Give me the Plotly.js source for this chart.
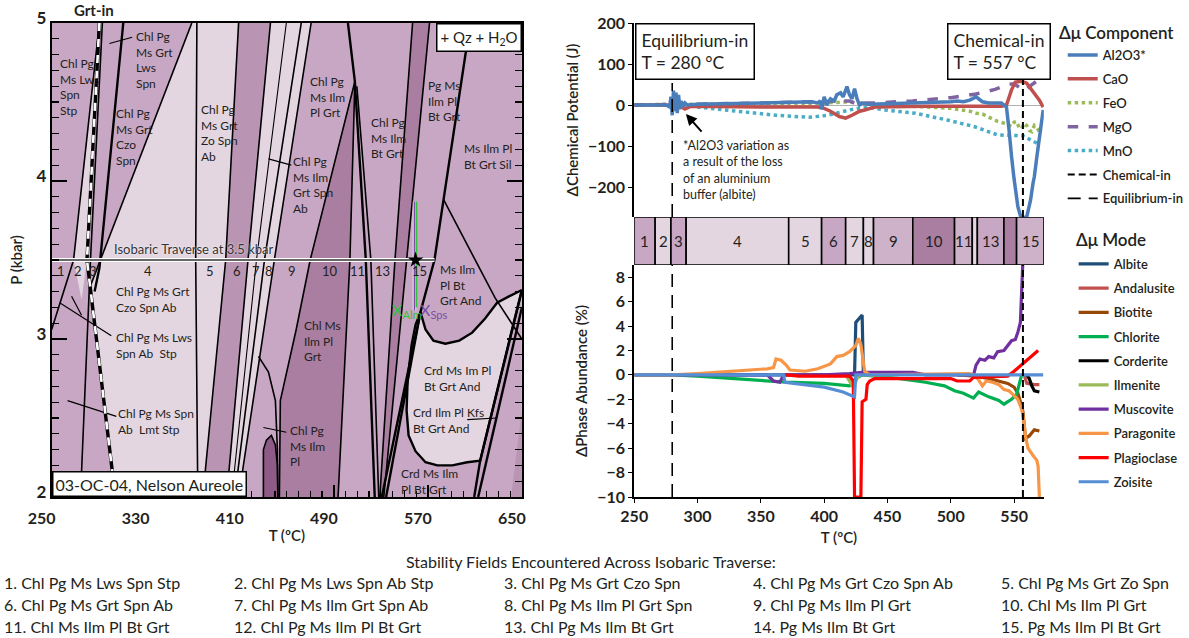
<!DOCTYPE html>
<html>
<head>
<meta charset="utf-8">
<script src="https://cdn.plot.ly/plotly-3.0.1.min.js"></script>
<style>
  html, body { margin: 0; padding: 0; background: #fff; }
  #chart { width: 1189px; height: 638px; }
</style>
</head>
<body>
<div id="chart"></div>
<script>
// ---------------- Isobaric traverse at 3.5 kbar: stability fields ----------------
const traverseP = 3.5;
const fieldNo    = [1, 2, 3, 4, 5, 6, 7, 8, 9, 10, 11, 12, 13, 14, 15];
const fieldStart = [250, 266.5, 279, 291, 372, 398, 417, 431, 439, 470, 503, 517, 521, 542, 552];
const fieldEnd   = [266.5, 279, 291, 372, 398, 417, 431, 439, 470, 503, 517, 521, 542, 552, 573.5];
const fieldAssemblage = [
  "Chl Pg Ms Lws Spn Stp", "Chl Pg Ms Lws Spn Ab Stp", "Chl Pg Ms Grt Czo Spn",
  "Chl Pg Ms Grt Czo Spn Ab", "Chl Pg Ms Grt Zo Spn", "Chl Pg Ms Grt Spn Ab",
  "Chl Pg Ms Ilm Grt Spn Ab", "Chl Pg Ms Ilm Pl Grt Spn", "Chl Pg Ms Ilm Pl Grt",
  "Chl Ms Ilm Pl Grt", "Chl Ms Ilm Pl Bt Grt", "Chl Pg Ms Ilm Pl Bt Grt",
  "Chl Pg Ms Ilm Bt Grt", "Pg Ms Ilm Bt Grt", "Pg Ms Ilm Pl Bt Grt"
];
const equilibriumInT = 280;
const chemicalInT = 557;
const starT = 559.5;

// ---------------- Pseudosection geometry, points are [T (°C), P (kbar)] ----------------
const frame      = [[250, 2], [650, 2], [650, 5], [250, 5]];
const sliver2    = [[290.6, 5.0], [280.0, 3.5], [275.4, 3.25], [268.6, 3.5]];
const light4to5  = [[369.2, 5.0], [409.0, 5.0], [398.0, 3.5], [378.5, 2.0], [303.3, 2.0], [301.6, 2.16], [282.6, 3.33], [291.0, 3.5]];
const band6      = [[409.0, 5.0], [436.1, 5.0], [417.0, 3.5], [398.8, 2.0], [378.5, 2.0], [398.0, 3.5]];
const light7to8  = [[436.1, 5.0], [470.7, 5.0], [439.4, 3.5], [409.0, 2.0], [398.8, 2.0], [417.0, 3.5]];
const field10    = [[507.9, 4.63], [469.9, 3.5], [458.0, 3.06], [444.5, 2.61], [443.7, 2.0], [493.6, 2.0], [503.7, 3.5]];
const field14    = [[557.0, 5.0], [571.4, 5.0], [552.0, 3.5], [532.5, 2.0], [529.1, 2.0], [542.0, 3.5]];
const crdField   = [[563.7, 3.17], [568.0, 3.06], [574.7, 2.99], [584.9, 2.97], [596.7, 2.99], [607.7, 3.04], [618.7, 3.13],
                    [628.9, 3.23], [639.0, 3.27], [650.0, 3.31], [641.6, 3.06], [633.1, 2.80], [624.6, 2.55], [617.9, 2.34],
                    [614.5, 2.23], [603.5, 2.22], [590.8, 2.20], [578.1, 2.20], [568.0, 2.22], [559.5, 2.29], [553.6, 2.39],
                    [551.9, 2.55], [552.8, 2.74], [556.1, 2.96], [559.5, 3.09], [563.7, 3.17]];
const lobe       = [[430.1, 2.0], [430.1, 2.30], [432.7, 2.36], [436.9, 2.39], [440.3, 2.33], [442.0, 2.20], [442.4, 2.0]];
const corner     = [[640.8, 2.0], [650.0, 2.55], [650.0, 2.0]];

// reaction lines
const rxn1   = [[290.6, 5.0], [268.6, 3.5], [250.0, 3.06]];
const grtIn  = [[290.6, 5.0], [280.0, 3.5], [301.6, 2.16], [303.3, 2.0]];
const rxn3   = [[293.1, 5.0], [283.0, 3.5], [274.5, 2.0]];
const rxn4   = [[310.9, 5.0], [290.6, 3.45], [286.5, 3.3]];
const rxn5   = [[369.2, 5.0], [291.0, 3.5], [282.6, 3.33]];
const rxn6   = [[373.5, 5.0], [372.5, 3.5], [374.3, 2.0]];
const rxn7   = [[409.0, 5.0], [398.0, 3.5], [378.5, 2.0]];
const rxn8   = [[436.1, 5.0], [417.0, 3.5], [398.8, 2.0]];
const rxn8b  = [[449.6, 5.0], [424.2, 3.5], [403.1, 2.0]];
const rxn9   = [[462.3, 5.0], [431.0, 3.5], [405.6, 2.0]];
const rxn10  = [[470.7, 5.0], [439.4, 3.5], [409.0, 2.0]];
const apexL  = [[507.9, 4.63], [469.9, 3.5], [458.0, 3.06], [444.5, 2.61], [443.7, 2.0]];
const apexR  = [[507.9, 4.63], [503.7, 3.5], [493.6, 2.0]];
const rxn13  = [[502.0, 5.0], [507.9, 4.63], [517.2, 3.5], [524.8, 2.0]];
const rxn14  = [[509.6, 4.6], [521.5, 3.5], [528.2, 2.0]];
const rxn15  = [[557.0, 5.0], [542.0, 3.5], [529.1, 2.0]];
const rxn16  = [[571.4, 5.0], [552.0, 3.5], [532.5, 2.0]];
const rxn17  = [[606.0, 5.0], [575.6, 3.5], [563.7, 3.17], [530.8, 2.0]];
const rxn17b = [[563.7, 3.17], [534.5, 2.0]];
const silAnd = [[583.5, 3.88], [627.2, 3.26], [650.0, 3.0]];
const crdR1  = [[650.0, 3.31], [614.5, 2.23], [609.4, 2.0]];
const crdR2  = [[650.0, 3.2], [612.8, 2.0]];
const f9Curve = [[425.9, 2.89], [434.4, 2.79], [440.3, 2.61], [442.0, 2.30], [442.4, 2.0]];
const leaders = [
  [[299.1, 4.87], [318.5, 4.91]],
  [[434.4, 4.14], [453.8, 4.10]],
  [[256.8, 3.23], [300.7, 3.02]],
  [[266.9, 3.27], [275.4, 3.15]],
  [[263.5, 2.61], [305.0, 2.51]],
  [[430.1, 2.44], [449.6, 2.41]],
  [[603.5, 2.49], [628.9, 2.50]]
];
const xAlmLine = [[560.3, 3.87], [560.3, 3.2]];
const xSpsLine = [[558.6, 3.87], [558.6, 3.18]];

// assemblage labels
const psLabelT = [255.1, 320.2, 303.3, 375.2, 453.8, 468.2, 519.8, 568.8, 599.3, 579.0, 463.1, 564.6, 555.3, 451.3, 545.1, 303.3, 303.3, 305.0];
const psLabelP = [4.595, 4.766, 4.278, 4.304, 3.975, 4.532, 4.272, 4.506, 4.152, 3.342, 2.987, 2.753, 2.487, 2.323, 2.101, 3.247, 2.956, 2.481];
const psLabelText = [
  "Chl Pg<br>Ms Lws<br>Spn<br>Stp", "Chl Pg<br>Ms Grt<br>Lws<br>Spn", "Chl Pg<br>Ms Grt<br>Czo<br>Spn",
  "Chl Pg<br>Ms Grt<br>Zo Spn<br>Ab", "Chl Pg<br>Ms Ilm<br>Grt Spn<br>Ab", "Chl Pg<br>Ms Ilm<br>Pl Grt",
  "Chl Pg<br>Ms Ilm<br>Bt Grt", "Pg Ms<br>Ilm Pl<br>Bt Grt", "Ms Ilm Pl<br>Bt Grt Sil",
  "Ms Ilm<br>Pl Bt<br>Grt And", "Chl Ms<br>Ilm Pl<br>Grt", "Crd Ms Im Pl<br>Bt Grt And",
  "Crd Ilm Pl Kfs<br>Bt Grt And", "Chl Pg<br>Ms Ilm<br>Pl", "Crd Ms Ilm<br>Pl Bt Grt",
  "Chl Pg Ms Grt<br>Czo Spn Ab", "Chl Pg Ms Lws<br>Spn Ab  Stp", "Chl Pg Ms Spn<br>Ab  Lmt Stp"
];

// ---------------- Δ chemical potential (J) along the traverse ----------------
const al2o3T = [250,275,278,279,280,281,282,283,284,285,286,287,288,290,292,300,350,390,395,397,398,400,402,405,408,410,413,415,418,420,422,424,426,428,430,435,450,480,500,505,510,515,520,525,530,540,544,546,547,548,550,551,553,555,557,560,562,563,565,566,568,570,571,573];
const al2o3  = [0,0,-5,20,-25,35,-15,30,-20,25,-10,10,-5,5,0,2,5,8,5,10,-10,20,0,15,10,25,30,20,45,25,15,40,15,0,5,2,3,5,8,10,8,12,20,8,5,5,-5,-60,-85,-125,-180,-200,-248,-270,-275,-273,-250,-232,-190,-175,-126,-80,-68,-12];
const caoT = [250,285,290,295,350,395,400,405,412,417,422,428,432,440,480,520,540,544,548,551,556,560,565,570,573];
const cao  = [0,0,-10,-3,-5,-5,-8,-15,-28,-32,-25,-15,-12,-5,-3,-2,-3,0,37,56,58,53,32,12,-5];
const feoT = [250,280,285,290,350,400,420,430,440,470,500,515,520,525,530,537,543,546,548,550,552,554,556,558,560,562,564,566,568,570,572];
const feo  = [0,2,8,2,3,5,8,5,0,-3,-8,-15,-20,-22,-30,-40,-45,-48,-52,-42,-40,-55,-58,-45,-50,-62,-65,-50,-55,-65,-60];
const mgoT = [250,285,300,350,400,420,425,430,440,470,500,520,535,545,550,555,558,562,566,571];
const mgo  = [0,0,2,5,8,10,3,5,5,10,18,27,38,50,52,40,35,45,55,65];
const mnoT = [250,290,300,320,340,362,388,403,420,433,448,472,498,519,537,557,568];
const mno  = [0,0,-5,-12,-18,-25,-30,-25,-12,-5,-12,-20,-37,-53,-73,-75,-93];

// ---------------- Δ phase abundance (%) along the traverse ----------------
const albiteT = [250,424,425,428,430,431,440];
const albite  = [0,0,4.3,4.7,4.9,0,0];
const andalusiteT = [558,560,566,570];
const andalusite  = [0,-0.7,-0.8,-0.8];
const biotiteT = [505,520,530,538,545,550,553,555,557,559,562,566,570];
const biotite  = [0,-0.1,-0.3,-0.5,-0.7,-1.0,-1.5,-2.2,-3.0,-5.2,-5.0,-4.5,-4.6];
const chloriteT = [250,280,300,330,360,370,400,420,425,430,440,460,480,495,503,510,518,522,530,538,542,548,552,555,556];
const chlorite  = [0,0,-0.1,-0.3,-0.5,-0.6,-0.7,-0.9,-0.3,0,-0.1,-0.3,-0.6,-0.9,-1.3,-1.5,-1.9,-1.4,-1.8,-2.1,-2.4,-2.0,-1.6,-0.5,0];
const corderiteT = [560,562,564,566,570];
const corderite  = [0,-0.3,-0.9,-1.3,-1.4];
const ilmeniteT = [417,420,423,426,428,440];
const ilmenite  = [0,-0.5,-1.0,-0.3,0,0];
const muscoviteT = [250,355,360,365,368,400,420,430,440,470,480,518,520,523,527,530,534,537,542,545,548,551,553,555,556,557,558];
const muscovite  = [0,0,-0.5,-0.6,0,0,0.1,0.2,0.2,0.2,0,0,0.8,1.3,1.2,1.5,1.4,1.9,2.0,2.4,2.8,2.9,3.5,4.3,6.0,8.5,12];
const paragoniteT = [250,280,300,330,355,360,362,366,370,373,385,395,405,410,415,420,425,427,429,431,432,436,500,515,518,522,525,528,533,538,542,546,549,553,556,558,559,561,565,568,569,570];
const paragonite  = [0,0,0.1,0.3,0.5,0.6,1.3,1.2,0.8,0.4,0.3,0.5,0.9,1.5,1.6,1.9,2.4,3.0,2.5,1.0,0.3,0,0.1,0.1,0,-0.4,-0.9,-0.5,-0.6,-0.8,-1.2,-1.3,-1.6,-2.0,-2.8,-4.0,-5.0,-6.0,-6.6,-7.0,-7.5,-10];
const plagioclaseT = [370,380,420,423,424,429,430,433,434,436,440,500,505,515,518,545,550,560,569];
const plagioclase  = [0,-0.1,-0.1,-0.5,-10,-10,-2.2,-2.0,-0.8,-0.5,-0.3,-0.3,-0.5,-0.5,-0.2,-0.1,0.3,1.2,2.0];
const zoisiteT = [250,368,369,385,400,415,424,425,573];
const zoisite  = [0,0,-0.6,-0.8,-1.0,-1.4,-1.8,0,0];

// ---------------- styling ----------------
const FONT = 'Lato, "Open Sans", "DejaVu Sans", sans-serif';
const INK = '#231f20';
const shade = { light: '#e4d6e1', mid: '#c8a7c4', midLight: '#ceb2ca', band: '#ba95b3', dark: '#a97ea1', deep: '#8e5b87' };
const stripShade = [shade.mid, shade.light, shade.mid, shade.light, shade.light, shade.mid, shade.light, shade.light,
                    shade.midLight, shade.dark, shade.midLight, shade.light, shade.mid, shade.dark, shade.midLight];

const xs = pts => pts.map(p => p[0]);
const ys = pts => pts.map(p => p[1]);

function area(pts, color) {
  return { type: 'scatter', x: xs(pts), y: ys(pts), mode: 'lines', fill: 'toself', fillcolor: color,
           line: { width: 0, color: color }, hoverinfo: 'skip', showlegend: false, xaxis: 'x', yaxis: 'y' };
}
function rxn(pts, width, color, dash) {
  return { type: 'scatter', x: xs(pts), y: ys(pts), mode: 'lines',
           line: { width: width, color: color || '#000', dash: dash || 'solid' },
           hoverinfo: 'skip', showlegend: false, xaxis: 'x', yaxis: 'y' };
}

const traces = [];

// ---- pseudosection fields ----
traces.push(area(frame, shade.mid));
traces.push(area(sliver2, shade.light));
traces.push(area(light4to5, shade.light));
traces.push(area(band6, shade.band));
traces.push(area(light7to8, shade.light));
traces.push(area(field10, shade.dark));
traces.push(area(field14, shade.dark));
traces.push(area(crdField, shade.light));
traces.push(area(corner, shade.band));
traces.push(area(lobe, shade.deep));

// ---- pseudosection boundaries ----
[rxn1, rxn3, rxn5, rxn6, rxn7, rxn8, rxn9, rxn10, apexL, apexR, rxn14, rxn15, rxn16, silAnd, f9Curve, lobe]
  .forEach(p => traces.push(rxn(p, 1.6)));
[rxn8b].forEach(p => traces.push(rxn(p, 1.1)));
[rxn4, rxn13, rxn17, rxn17b, crdR1, crdR2, crdField].forEach(p => traces.push(rxn(p, 2.4)));
leaders.forEach(p => traces.push(rxn(p, 1.2)));
traces.push(rxn(grtIn, 3.4, '#000'));
traces.push(rxn(grtIn, 2.6, '#ffffff', '8px,8px'));

// traverse and analysed point
traces.push(rxn([[250, traverseP], [575.6, traverseP]], 4, '#ffffff'));
traces.push(rxn([[250, traverseP], [575.6, traverseP]], 1.5, '#333333'));
traces.push(rxn(xSpsLine, 3.5, 'rgba(255,255,255,0.8)'));
traces.push(rxn(xAlmLine, 1.6, '#2fc23c'));
traces.push(rxn(xSpsLine, 1.6, '#7a4ea3'));
traces.push({ type: 'scatter', x: [starT], y: [traverseP], mode: 'markers',
              marker: { symbol: 'star', size: 12, color: '#000' }, hoverinfo: 'skip', showlegend: false, xaxis: 'x', yaxis: 'y' });

// ---- stability-field strip ----
traces.push({
  type: 'bar', orientation: 'h', xaxis: 'x3', yaxis: 'y3',
  y: fieldNo.map(() => 0), base: fieldStart, x: fieldEnd.map((e, i) => e - fieldStart[i]),
  width: 1, marker: { color: stripShade, line: { color: '#000', width: 1.6 } },
  hoverinfo: 'skip', showlegend: false
});

// ---- Δ chemical potential ----
function comp(x, y, name, color, dash, width, group) {
  return { type: 'scatter', mode: 'lines', x: x, y: y, name: name, xaxis: 'x2', yaxis: 'y2',
           line: { color: color, width: width, dash: dash }, legend: 'legend', legendgroup: group, hoverinfo: 'skip' };
}
traces.push(comp(mnoT, mno, 'MnO', '#4bacc6', 'dot', 3.5, 'c5'));
traces.push(comp(feoT, feo, 'FeO', '#9bbb59', 'dot', 3.5, 'c3'));
traces.push(comp(mgoT, mgo, 'MgO', '#8064a2', 'dash', 3.5, 'c4'));
traces.push(comp(caoT, cao, 'CaO', '#c0504d', 'solid', 3.5, 'c2'));
traces.push(comp(al2o3T, al2o3, 'Al2O3*', '#4a7ebb', 'solid', 3.5, 'c1'));
traces.push(comp([chemicalInT, chemicalInT], [-273, 66], 'Chemical-in', '#000', '7px,4px', 2, 'c6'));
traces.push(comp([equilibriumInT, equilibriumInT], [-273, 54], 'Equilibrium-in', '#000', '13px,8px', 1.6, 'c7'));

// ---- Δ phase abundance ----
function mode(x, y, name, color, group) {
  return { type: 'scatter', mode: 'lines', x: x, y: y, name: name, xaxis: 'x4', yaxis: 'y4',
           line: { color: color, width: 3.2 }, legend: 'legend2', legendgroup: group, hoverinfo: 'skip' };
}
traces.push(mode(albiteT, albite, 'Albite', '#1f4e79', 'm1'));
traces.push(mode(andalusiteT, andalusite, 'Andalusite', '#c0504d', 'm2'));
traces.push(mode(biotiteT, biotite, 'Biotite', '#974706', 'm3'));
traces.push(mode(chloriteT, chlorite, 'Chlorite', '#00b050', 'm4'));
traces.push(mode(corderiteT, corderite, 'Corderite', '#000000', 'm5'));
traces.push(mode(ilmeniteT, ilmenite, 'Ilmenite', '#9bbb59', 'm6'));
traces.push(mode(muscoviteT, muscovite, 'Muscovite', '#7030a0', 'm7'));
traces.push(mode(paragoniteT, paragonite, 'Paragonite', '#f79646', 'm8'));
traces.push(mode(plagioclaseT, plagioclase, 'Plagioclase', '#ff0000', 'm9'));
traces.push(mode(zoisiteT, zoisite, 'Zoisite', '#558ed5', 'm10'));
traces.push({ type: 'scatter', mode: 'lines', x: [chemicalInT, chemicalInT], y: [-10, 9], xaxis: 'x4', yaxis: 'y4',
              line: { color: '#000', width: 2, dash: '7px,4px' }, showlegend: false, legendgroup: 'c6', hoverinfo: 'skip' });
traces.push({ type: 'scatter', mode: 'lines', x: [equilibriumInT, equilibriumInT], y: [-10, 9], xaxis: 'x4', yaxis: 'y4',
              line: { color: '#000', width: 1.6, dash: '13px,8px' }, showlegend: false, legendgroup: 'c7', hoverinfo: 'skip' });

// ---------------- annotations ----------------
const W = 1189, H = 638;
const px = v => v / W, py = v => 1 - v / H;
const ann = [];

psLabelText.forEach((t, i) => ann.push({
  xref: 'x', yref: 'y', x: psLabelT[i], y: psLabelP[i], text: t, showarrow: false,
  xanchor: 'left', yanchor: 'middle', align: 'left', font: { family: FONT, size: 12, color: INK }
}));
fieldNo.forEach((n, i) => {
  if (n === 12 || n === 14) return;
  ann.push({ xref: 'x', yref: 'y', x: (fieldStart[i] + fieldEnd[i]) / 2, y: traverseP, yanchor: 'top', yshift: -1,
             text: String(n), showarrow: false, font: { family: FONT, size: 13, color: INK } });
  ann.push({ xref: 'x3', yref: 'y3', x: (fieldStart[i] + fieldEnd[i]) / 2, y: 0,
             text: String(n), showarrow: false, font: { family: FONT, size: 15, color: INK } });
});
ann.push({ xref: 'x', yref: 'y', x: 371, y: traverseP, yanchor: 'bottom', yshift: 1, text: 'Isobaric Traverse at 3.5 kbar',
           showarrow: false, font: { family: FONT, size: 13, color: '#333', shadow: '0px 0px 2px #ffffff' } });
ann.push({ xref: 'x', yref: 'y', x: 537.5, y: 3.18, xanchor: 'left', text: 'X<sub>Alm</sub>', showarrow: false,
           font: { family: FONT, size: 16, color: '#2fc23c' } });
ann.push({ xref: 'x', yref: 'y', x: 561.2, y: 3.18, xanchor: 'left', text: 'X<sub>Sps</sub>', showarrow: false,
           font: { family: FONT, size: 16, color: '#7a4ea3' } });
ann.push({ xref: 'x', yref: 'paper', x: 286.4, y: py(10), yanchor: 'middle', text: '<b>Grt-in</b>', showarrow: false,
           font: { family: FONT, size: 15, color: INK } });
ann.push({ xref: 'x', yref: 'y', x: 650, y: 5, xanchor: 'right', yanchor: 'top', text: '+ Qz + H<sub>2</sub>O',
           showarrow: false, bgcolor: '#fff', bordercolor: '#000', borderwidth: 1.5, borderpad: 3,
           font: { family: FONT, size: 15, color: INK } });
ann.push({ xref: 'x', yref: 'y', x: 250, y: 2, xanchor: 'left', yanchor: 'bottom', text: '03-OC-04, Nelson Aureole',
           showarrow: false, bgcolor: '#fff', bordercolor: '#000', borderwidth: 1.5, borderpad: 2,
           font: { family: FONT, size: 16, color: INK } });

// chemical potential boxes and note
ann.push({ xref: 'paper', yref: 'paper', x: px(639), y: py(23), xanchor: 'left', yanchor: 'top', align: 'left',
           text: 'Equilibrium-in<br>T = ' + equilibriumInT + ' °C', showarrow: false, bgcolor: '#fff',
           bordercolor: '#000', borderwidth: 1.5, borderpad: 5, font: { family: FONT, size: 17.5, color: INK } });
ann.push({ xref: 'paper', yref: 'paper', x: px(953), y: py(23), xanchor: 'left', yanchor: 'top', align: 'left',
           text: 'Chemical-in<br>T = ' + chemicalInT + ' °C', showarrow: false, bgcolor: '#fff',
           bordercolor: '#000', borderwidth: 1.5, borderpad: 5, font: { family: FONT, size: 17.5, color: INK } });
ann.push({ xref: 'paper', yref: 'paper', x: px(685), y: py(170), xanchor: 'left', yanchor: 'middle', align: 'left',
           text: '*Al2O3 variation as<br>a result of the loss<br>of an aluminium<br>buffer (albite)', showarrow: false,
           font: { family: FONT, size: 12.5, color: INK } });
ann.push({ xref: 'x2', yref: 'y2', x: 290.8, y: -22, ax: 17, ay: 19, text: '', showarrow: true,
           arrowhead: 2, arrowsize: 1.1, arrowwidth: 2, arrowcolor: '#000' });

// legend headings
ann.push({ xref: 'paper', yref: 'paper', x: px(1063), y: py(33), xanchor: 'left', yanchor: 'middle',
           text: 'Δμ Component', showarrow: false, font: { family: FONT, size: 17, color: INK, weight: 600 } });
ann.push({ xref: 'paper', yref: 'paper', x: px(1080), y: py(240), xanchor: 'left', yanchor: 'middle',
           text: 'Δμ Mode', showarrow: false, font: { family: FONT, size: 17, color: INK, weight: 600 } });

// list of fields below the plots
ann.push({ xref: 'paper', yref: 'paper', x: px(595), y: py(561), xanchor: 'center', yanchor: 'middle',
           text: 'Stability Fields Encountered Across Isobaric Traverse:', showarrow: false,
           font: { family: FONT, size: 16, color: INK } });
const listCol = [2, 233, 505, 755, 1005];
const listRow = [582, 604, 626];
fieldAssemblage.forEach((a, i) => ann.push({
  xref: 'paper', yref: 'paper', x: px(listCol[i % 5]), y: py(listRow[Math.floor(i / 5)]),
  xanchor: 'left', yanchor: 'middle', text: fieldNo[i] + '. ' + a, showarrow: false,
  font: { family: FONT, size: 16, color: INK }
}));

// ---------------- layout ----------------
const leftX = [px(52), px(525)];
const rightX = [px(638), px(1050)];
const tickFont = { family: FONT, size: 16, color: INK, weight: 700 };
const titleFont = { family: FONT, size: 15, color: INK, weight: 600 };

const layout = {
  width: W, height: H, margin: { l: 0, r: 0, t: 0, b: 0 },
  paper_bgcolor: '#fff', plot_bgcolor: 'rgba(0,0,0,0)',
  font: { family: FONT, color: INK },
  showlegend: true,
  xaxis: {
    domain: leftX, anchor: 'y', range: [250, 650], tickmode: 'linear', tick0: 250, dtick: 80,
    ticks: 'inside', ticklen: 12, tickwidth: 1.5, tickcolor: '#000', ticklabelshift: -10, ticklabelstandoff: 6,
    minor: { dtick: 10, ticks: 'inside', ticklen: 6, tickcolor: '#000', tickwidth: 1.2 },
    showline: true, linecolor: '#000', linewidth: 2, mirror: true, showgrid: false, zeroline: false,
    tickfont: tickFont, title: { text: 'T (ºC)', font: { family: FONT, size: 15, color: INK, weight: 600 }, standoff: 4 }
  },
  yaxis: {
    domain: [py(497), py(23)], anchor: 'x', range: [2, 5], dtick: 1,
    ticks: 'inside', ticklen: 15, tickwidth: 1.5, tickcolor: '#000', ticklabelshift: -5,
    minor: { dtick: 0.1, ticks: 'inside', ticklen: 7, tickcolor: '#000', tickwidth: 1.2 },
    showline: true, linecolor: '#000', linewidth: 2, mirror: 'ticks', showgrid: false, zeroline: false,
    tickfont: { family: FONT, size: 17, color: INK, weight: 700 },
    title: { text: 'P (kbar)', font: titleFont, standoff: 10 }
  },
  xaxis2: {
    domain: rightX, anchor: 'y2', range: [250, 573.5], showticklabels: false, ticks: '', showline: false,
    showgrid: false, zeroline: false
  },
  yaxis2: {
    domain: [py(217), py(23)], anchor: 'x2', range: [-273, 200], tickvals: [-200, -100, 0, 100, 200],
    ticks: 'outside', ticklen: 4, tickcolor: '#000', showline: true, linecolor: '#000', linewidth: 2,
    showgrid: false, zeroline: true, zerolinecolor: '#b0b0b0', zerolinewidth: 1,
    tickfont: tickFont, title: { text: 'ΔChemical Potential (J)', font: titleFont, standoff: 6 }
  },
  xaxis3: { domain: rightX, anchor: 'y3', range: [250, 573.5], visible: false },
  yaxis3: { domain: [py(265), py(217)], anchor: 'x3', range: [-0.5, 0.5], visible: false },
  xaxis4: {
    domain: rightX, anchor: 'y4', range: [250, 573.5], tickvals: [250, 300, 350, 400, 450, 500, 550],
    ticks: 'outside', ticklen: 4, tickcolor: '#000', showline: true, linecolor: '#000', linewidth: 2,
    showgrid: false, zeroline: false, tickfont: tickFont,
    title: { text: 'T (ºC)', font: { family: FONT, size: 15, color: INK, weight: 600 }, standoff: 8 }
  },
  yaxis4: {
    domain: [py(497), py(265)], anchor: 'x4', range: [-10, 9], tickvals: [-10, -8, -6, -4, -2, 0, 2, 4, 6, 8],
    ticks: 'outside', ticklen: 4, tickcolor: '#000', showline: true, linecolor: '#000', linewidth: 2,
    showgrid: false, zeroline: false, tickfont: tickFont,
    title: { text: 'ΔPhase Abundance (%)', font: titleFont, standoff: 6 }
  },
  legend: {
    x: px(1069), y: py(40), xanchor: 'left', yanchor: 'top', bgcolor: 'rgba(0,0,0,0)', borderwidth: 0,
    font: { family: FONT, size: 13, color: INK, weight: 600 }, tracegroupgap: 4, itemwidth: 30,
    traceorder: 'grouped', itemclick: false, itemdoubleclick: false
  },
  legend2: {
    x: px(1080), y: py(249), xanchor: 'left', yanchor: 'top', bgcolor: 'rgba(0,0,0,0)', borderwidth: 0,
    font: { family: FONT, size: 13, color: INK, weight: 600 }, tracegroupgap: 4.3, itemwidth: 30,
    traceorder: 'grouped', itemclick: false, itemdoubleclick: false
  },
  annotations: ann
};

// legend entries listed in the component order
const compOrder = ['Al2O3*', 'CaO', 'FeO', 'MgO', 'MnO', 'Chemical-in', 'Equilibrium-in'];
traces.forEach(t => { if (t.legend === 'legend' && t.name) t.legendrank = compOrder.indexOf(t.name) + 1; });

Plotly.newPlot('chart', traces, layout, { staticPlot: true, displayModeBar: false });
</script>
</body>
</html>
